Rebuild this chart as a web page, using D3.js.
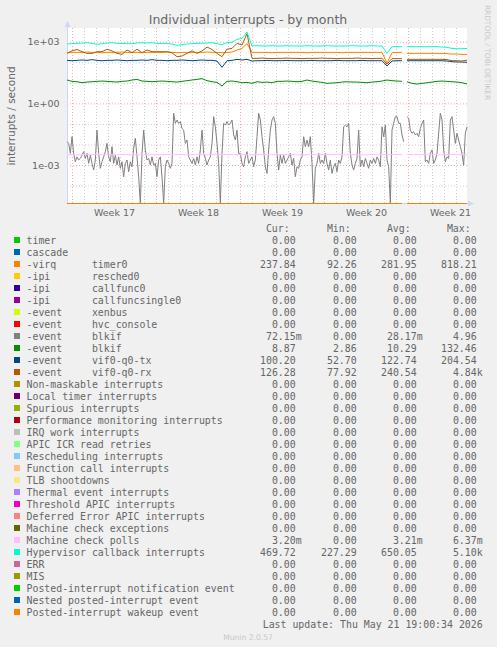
<!DOCTYPE html>
<html>
<head>
<meta charset="utf-8">
<script src="https://cdn.jsdelivr.net/npm/d3@7"></script>
<style>
html, body { margin: 0; padding: 0; background: #f0f0f0; }
svg { display: block; }
text { fill: #666; }
</style>
</head>
<body>
<div id="chart"></div>
<script>
// munin month graph: 400 px wide, 2 hours per pixel
const width = 497, height = 647;
const plot = {left: 67, top: 28, width: 400, height: 175};
const hoursShown = 800;
const yMin = 1.42e-5, yMax = 4650;

// x axis: week boundaries (hours from left edge) and labels
const weekStarts = [10, 178, 346, 514, 682];
const weekLabels = ["Week 17", "Week 18", "Week 19", "Week 20", "Week 21"];
const yMajor = [1e-3, 1, 1e3];
const yMinor = [1e-4, 1e-2, 1e-1, 10, 100];

// -event blkif (gray), sampled every 10/3 h, null = no data
const blkifGrayStep = 10 / 3;
const blkifGray = [
  .0137, .0113, .0037, .024, .0037, .00145, .0025, .00175, .0021, .0030,
  .0045, .0021, .0037, .0012, .0030, .0012, .00057, .00175, .050, .0037,
  .00069, .00145, .0025, .0045, .0113, .0025, .00145, .0078, .0012, .0030,
  .0010, .0025, .00069, .00145, .00027, .0012, .00175, .00047, .00145, .00083,
  .0065, .020, .0025, .00027, 0, .0037, .050, .0054, .00175, .0021,
  .0010, .0025, .0010, .0012, .00027, .00175, .0025, .00027, 0, .00083,
  .00175, .0012, .00069, .0012, .33, .107, .155, .107, .13, .06,
  .050, .0113, .0165, .0025, .00175, .0012, .0021, .0010, .0025, .0012,
  .0054, .050, .0037, .0021, .0010, .00175, .0025, .0113, .225, .073,
  .0113, .0012, 0, .0037, .107, .088, .13, .088, .107, .155,
  .029, .0165, .050, .0037,
  .0037, .0012, .00083, .0025, .0045, .0012, .00175, .0025, .00083, .00175,
  .024, .33, .155, .024, .0054, .00083, .00039, .0054, .050, .155,
  .225, .107, .0037, .00057, .0030, .0012, .0030, .0012, .00175, .0025,
  .0037, .0010, .0021, .00027, .00083, .00069, .00175, .0025, .024, .0078,
  .0165, .0078, .024, .0012, 0, .00069, .0012, .0037, .0012, .00175,
  .0012, .0037, .0012, .00057, .00175, .00039, .00083, .0012, .00047, .00175,
  .0012, .0025, .073, .088, .073, .107, .0037, .0010, .00057, .0012,
  .0021, .050, .00083, .00175, .00083, .0021, .0012, .00069, .00175, .0012,
  .0021, .0012, .0025, .00175, .00083, .073, .024, .088, .00175, .00083,
  0, .050, .107, .225, .225, .107, .107, .029, .0137, null,
  .225, .19, .050, .035, .042, .029, .035, .024, .06, .107,
  .155, .00145, .00175, .0012, .0037, .0054, .0012, .00175, .0037, .035,
  .33, .155, .0054, .00145, .0025, .0021, .155, .225, .050, .0113,
  .035, .0165, .0078, .0037, .0010, .035, .07215
];

// the other series are sampled every 10 h, with the data gap at 675 h
const coarseHours = [...d3.range(0, 680, 10), 675, ...d3.range(680, 801, 10)];

const timer0 = [
  292, 303, 303, 303, 315, 303, 303, 292, 303, 303, 303, 315, 303, 303, 303, 292, 303,
  303, 303, 303, 315, 303, 292, 303, 303, 303, 303, 303, 315, 303, 303, 292, 303, 315,
  394, 475, 818, 303,
  303, 303, 303, 292, 303, 303, 303, 303, 303, 303, 292, 303, 303,
  303, 303, 303, 303, 292, 303, 303, 303, 303, 303, 303, 303, 303,
  92.3, 292, 303, 303, null,
  271, 271, 271, 271, 271, 271, 271, 271, 261, 252, 252, 243, 238
];
const vifRx = [
  271, 358, 418, 327, 271, 271, 327, 327, 431, 358, 271, 243, 394, 292, 431, 292, 394, 327,
  327, 327, 327, 292, 187, 201, 271, 358, 271, 358, 552, 418, 271, 187, 431, 475, 832,
  690, 2500, 155,
  155, 161, 155, 150, 155, 155, 161, 155, 155, 150, 155, 155, 155,
  161, 155, 155, 150, 155, 155, 155, 161, 155, 155, 150, 155, 155,
  81, 150, 150, 150, null,
  139, 139, 139, 139, 139, 139, 139, 139, 134, 119, 119, 115, 126
];
const vifTx = [
  124, 119, 124, 129, 124, 134, 124, 119, 124, 124, 129, 124, 119, 124, 124, 129, 124, 134, 124,
  124, 119, 124, 124, 129, 124, 119, 124, 129, 124, 124, 115, 57, 119, 124, 139, 129, 139, 115,
  119, 119, 124, 119, 119, 119, 124, 119, 119, 119, 119, 124, 119,
  119, 119, 119, 124, 119, 119, 119, 119, 124, 119, 119, 119, 119,
  66, 115, 119, 119, null,
  119, 119, 119, 119, 119, 119, 119, 119, 115, 107, 103, 103, 100
];
const blkifGreen = [
  13.7, 11.8, 11.3, 10.1, 10.9, 11.3, 11.8, 12.2, 11.8, 11.3, 10.9, 11.8, 12.2, 13.7, 14.7, 12.2, 11.8,
  11.3, 11.8, 12.2, 11.8, 11.3, 10.9, 11.8, 12.7, 13.7, 14.7, 15.9, 12.7, 11.3, 10.5, 7.0, 11.8, 12.2,
  11.3, 10.1, 10.5, 9.4, 11.3, 10.5, 10.9, 10.1, 11.8, 11.8, 12.2, 11.8, 11.3, 11.8, 13.7, 12.2, 11.3,
  10.5, 9.4, 9.8, 10.1, 10.9, 11.3, 10.9, 10.9, 10.5, 10.1, 10.9, 11.3, 12.2, 13.7, 12.7, 12.2, 11.8,
  null,
  11.3, 9.4, 8.7, 9.4, 10.1, 10.9, 11.8, 12.2, 11.8, 11.3, 10.9, 10.1, 8.87
];
const mcPolls = [
  .0032, .0032, .0031, .0032, .0032, .0032, .0033, .0032, .0032, .0031, .0032, .0032, .0032, .0032,
  .0032, .0031, .0032, .0032, .0032, .0032, .0033, .0032, .0032, .0032, .0031, .0032, .0032, .0032,
  .0032, .0032, .0032, .0033, .0032, .0032, .0032, .0032, .0031, .0032, .0032, .0032, .0032, .0032,
  .0033, .0032, .0032, .0032, .0032, .0031, .0032, .0032, .0032, .0032, .0032, .0032, .0033, .0032,
  .0032, .0032, .0032, .0032, .0031, .0032, .0032, .0032, .0032, .0032, .0032, .0032, null,
  .0032, .0032, .0032, .0032, .0033, .0032, .0032, .0032, .0032, .0032, .0032, .0032, .0032
];
const hypervisor = [
  773, 802, 832, 864, 897, 832, 745, 802, 864, 897, 832, 832, 802, 802, 864, 897, 864, 897,
  832, 802, 832, 773, 664, 717, 773, 802, 832, 832, 864, 897, 802, 717, 897, 931, 1303,
  1458, 3000, 618,
  642, 618, 618, 642, 618, 618, 642, 618, 618, 618, 642, 618, 618,
  618, 642, 618, 618, 618, 618, 642, 618, 618, 618, 642, 618, 618,
  271, 573, 573, 573, null,
  573, 573, 573, 573, 573, 573, 573, 552, 532, 475, 458, 458, 470
];

// legend
const names = [
  "timer", "cascade", "-virq      timer0", "-ipi       resched0", "-ipi       callfunc0",
  "-ipi       callfuncsingle0", "-event     xenbus", "-event     hvc_console", "-event     blkif",
  "-event     blkif", "-event     vif0-q0-tx", "-event     vif0-q0-rx", "Non-maskable interrupts",
  "Local timer interrupts", "Spurious interrupts", "Performance monitoring interrupts",
  "IRQ work interrupts", "APIC ICR read retries", "Rescheduling interrupts", "Function call interrupts",
  "TLB shootdowns", "Thermal event interrupts", "Threshold APIC interrupts",
  "Deferred Error APIC interrupts", "Machine check exceptions", "Machine check polls",
  "Hypervisor callback interrupts", "ERR", "MIS", "Posted-interrupt notification event",
  "Nested posted-interrupt event", "Posted-interrupt wakeup event"
];
const colors = [
  "#00CC00", "#0066B3", "#FF8000", "#FFCC00", "#330099", "#990099", "#CCFF00", "#FF0000",
  "#808080", "#008F00", "#00487D", "#B35A00", "#B38F00", "#6B006B", "#8FB300", "#B30000",
  "#BEBEBE", "#80FF80", "#80C9FF", "#FFC080", "#FFE680", "#AA80FF", "#EE00CC", "#FF8080",
  "#666600", "#FFBFFF", "#00FFCC", "#CC6699", "#999900", "#00CC00", "#0066B3", "#FF8000"
];
const curs = [0, 0, 237.84, 0, 0, 0, 0, 0, 0.07215, 8.87, 100.20, 126.28, 0, 0, 0, 0,
  0, 0, 0, 0, 0, 0, 0, 0, 0, 0.0032, 469.72, 0, 0, 0, 0, 0];
const mins = [0, 0, 92.26, 0, 0, 0, 0, 0, 0, 2.86, 52.70, 77.92, 0, 0, 0, 0,
  0, 0, 0, 0, 0, 0, 0, 0, 0, 0, 227.29, 0, 0, 0, 0, 0];
const avgs = [0, 0, 281.95, 0, 0, 0, 0, 0, 0.02817, 10.29, 122.74, 240.54, 0, 0, 0, 0,
  0, 0, 0, 0, 0, 0, 0, 0, 0, 0.00321, 650.05, 0, 0, 0, 0, 0];
const maxs = [0, 0, 818.21, 0, 0, 0, 0, 0, 4.96, 132.46, 204.54, 4840, 0, 0, 0, 0,
  0, 0, 0, 0, 0, 0, 0, 0, 0, 0.00637, 5100, 0, 0, 0, 0, 0];

const lastUpdate = "Last update: Thu May 21 19:00:34 2026";

// which legend rows have a sampled series
const sampled = {
  2: {hours: coarseHours, values: timer0},
  8: {hours: blkifGray.map((d, i) => i * blkifGrayStep), values: blkifGray},
  9: {hours: coarseHours, values: blkifGreen},
  10: {hours: coarseHours, values: vifTx},
  11: {hours: coarseHours, values: vifRx},
  25: {hours: coarseHours, values: mcPolls},
  26: {hours: coarseHours, values: hypervisor}
};

const svg = d3.select("#chart")
    .append("svg")
    .attr("width", width)
    .attr("height", height);

svg.append("rect")
    .attr("width", width)
    .attr("height", height)
    .attr("fill", "#f0f0f0");

svg.append("text")
    .attr("x", 248)
    .attr("y", 23.5)
    .attr("text-anchor", "middle")
    .style("font", "12.5px 'DejaVu Sans'")
    .text("Individual interrupts - by month");

svg.append("rect")
    .attr("x", plot.left)
    .attr("y", plot.top)
    .attr("width", plot.width)
    .attr("height", plot.height)
    .attr("fill", "#fff");

const x = d3.scaleLinear()
    .domain([0, hoursShown])
    .range([plot.left, plot.left + plot.width]);

const y = d3.scaleLog()
    .domain([yMin, yMax])
    .range([plot.top + plot.height, plot.top])
    .clamp(true);

const bottom = plot.top + plot.height;

// grid
const dayLines = d3.range(weekStarts[0], hoursShown, 24).filter(h => !weekStarts.includes(h));

const vGrid = (vals, color) => svg.append("g")
    .attr("transform", `translate(0,${bottom})`)
    .call(d3.axisBottom(x).tickValues(vals).tickSize(-plot.height).tickFormat(""))
    .call(g => g.select(".domain").remove())
    .call(g => g.selectAll("line").attr("stroke", color).attr("stroke-dasharray", "1,2"));

const hGrid = (vals, color) => svg.append("g")
    .attr("transform", `translate(${plot.left},0)`)
    .call(d3.axisLeft(y).tickValues(vals).tickSize(-plot.width).tickFormat(""))
    .call(g => g.select(".domain").remove())
    .call(g => g.selectAll("line").attr("stroke", color).attr("stroke-dasharray", "1,2"));

vGrid(dayLines, "#cfcfcf");
hGrid(yMinor, "#cfcfcf");
vGrid(weekStarts, "#f0a8a8");
hGrid(yMajor, "#f0a8a8");

// labels
svg.append("g")
    .attr("transform", `translate(0,${bottom})`)
    .call(d3.axisBottom(x)
        .tickValues(weekStarts.map(h => h + 84))
        .tickFormat((d, i) => weekLabels[i])
        .tickSize(0)
        .tickPadding(6.5))
    .call(g => g.select(".domain").remove())
    .call(g => g.selectAll("text").style("font", "9.5px 'DejaVu Sans'").attr("fill", "#666"));

const expFormat = d => {
    const e = Math.round(Math.log10(d));
    return "1e" + (e < 0 ? "-" : "+") + String(Math.abs(e)).padStart(2, "0");
};

svg.append("g")
    .attr("transform", `translate(${plot.left},0)`)
    .call(d3.axisLeft(y).tickValues(yMajor).tickFormat(expFormat).tickSize(0).tickPadding(7.5))
    .call(g => g.select(".domain").remove())
    .call(g => g.selectAll("text").style("font", "9.5px 'DejaVu Sans'").attr("fill", "#666"));

svg.append("text")
    .attr("transform", "translate(15,116) rotate(-90)")
    .attr("text-anchor", "middle")
    .style("font", "10.5px 'DejaVu Sans'")
    .text("interrupts / second");

svg.append("text")
    .attr("transform", "translate(484.5,52.5) rotate(90)")
    .attr("text-anchor", "middle")
    .style("font", "7.4px 'DejaVu Sans'")
    .style("fill", "#c8c8c8")
    .text("RRDTOOL / TOBI OETIKER");

// axis lines
const axisColor = "#CFD6F8";
svg.append("line")
    .attr("x1", plot.left + 0.5).attr("x2", plot.left + 0.5)
    .attr("y1", plot.top - 2).attr("y2", bottom + 0.5)
    .attr("stroke", axisColor);
svg.append("line")
    .attr("x1", plot.left).attr("x2", plot.left + plot.width + 2)
    .attr("y1", bottom + 0.5).attr("y2", bottom + 0.5)
    .attr("stroke", axisColor);

// series, drawn in legend order; zero values sit on the bottom edge
const line = d3.line()
    .defined(d => d[1] !== null)
    .x(d => x(d[0]))
    .y(d => d[1] > 0 ? y(d[1]) : bottom + 0.5);

const series = names.map((name, i) => {
    const s = sampled[i];
    const pts = s
        ? s.hours.map((h, k) => [h, s.values[k]])
        : coarseHours.map(h => [h, h === 675 ? null : 0]);
    return {name, color: colors[i], pts};
});

svg.append("g")
    .attr("fill", "none")
    .attr("stroke-width", 1)
    .attr("stroke-linejoin", "round")
    .selectAll("path")
    .data(series)
    .join("path")
        .attr("stroke", d => d.color)
        .attr("d", d => line(d.pts));

// arrows
svg.append("path")
    .attr("d", `M${plot.left - 2.5},${plot.top - 1}L${plot.left + 0.5},${plot.top - 7}L${plot.left + 3.5},${plot.top - 1}Z`)
    .attr("fill", axisColor);
svg.append("path")
    .attr("d", `M${plot.left + plot.width + 1},${bottom - 2.5}L${plot.left + plot.width + 7},${bottom + 0.5}L${plot.left + plot.width + 1},${bottom + 3.5}Z`)
    .attr("fill", axisColor);

// legend
const rowTop = 240, rowH = 12;
const colEnds = [295.7, 356.7, 416.7, 476.7];
const headers = ["Cur:", "Min:", "Avg:", "Max:"];

const fmt = v => {
    if (v >= 1000) return [(v / 1000).toFixed(2), "k"];
    if (v > 0 && v < 1) return [(v * 1000).toFixed(2), "m"];
    return [v.toFixed(2), ""];
};

const legend = svg.append("g")
    .style("font", "9.9px 'DejaVu Sans Mono'");

legend.selectAll("text.head")
    .data(headers)
    .join("text")
        .attr("class", "head")
        .attr("x", (d, i) => colEnds[i] - 6)
        .attr("y", rowTop - rowH + 3.5)
        .attr("text-anchor", "end")
        .text(d => d);

const rows = legend.selectAll("g.row")
    .data(series)
    .join("g")
        .attr("class", "row")
        .attr("transform", (d, i) => `translate(0,${rowTop + i * rowH})`);

rows.append("rect")
    .attr("x", 14)
    .attr("y", -3)
    .attr("width", 6)
    .attr("height", 6)
    .attr("fill", d => d.color);

rows.append("text")
    .attr("x", 26.5)
    .attr("y", 3.5)
    .attr("xml:space", "preserve")
    .style("white-space", "pre")
    .text(d => d.name);

rows.each(function(d, i) {
    const row = d3.select(this);
    [curs[i], mins[i], avgs[i], maxs[i]].forEach((v, c) => {
        const [num, suffix] = fmt(v);
        row.append("text")
            .attr("x", colEnds[c])
            .attr("y", 3.5)
            .attr("text-anchor", "end")
            .text(num);
        if (suffix) {
            row.append("text")
                .attr("x", colEnds[c])
                .attr("y", 3.5)
                .text(suffix);
        }
    });
});

legend.append("text")
    .attr("x", 482.7)
    .attr("y", rowTop + names.length * rowH + 3.8)
    .attr("text-anchor", "end")
    .text(lastUpdate);

svg.append("text")
    .attr("x", 248)
    .attr("y", 640)
    .attr("text-anchor", "middle")
    .style("font", "7.6px 'DejaVu Sans'")
    .style("fill", "#c8c8c8")
    .text("Munin 2.0.57");
</script>
</body>
</html>
